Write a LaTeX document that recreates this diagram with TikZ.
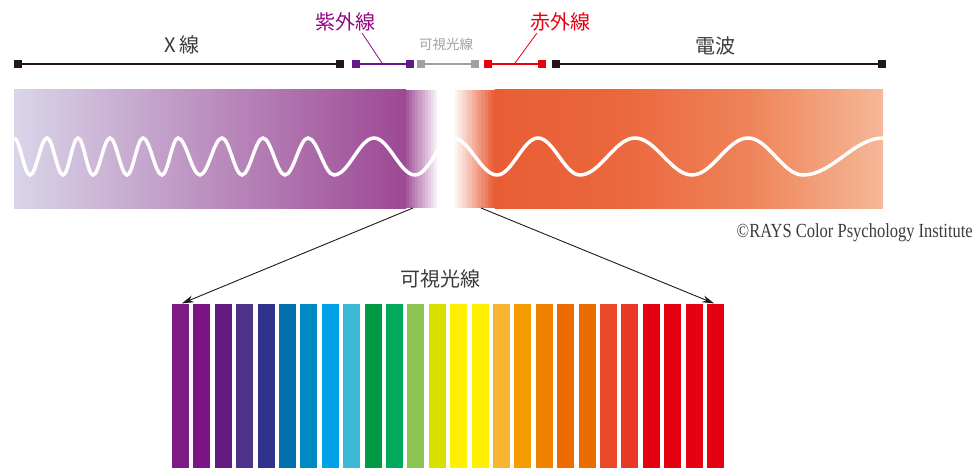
\documentclass[tikz,border=0pt]{standalone}
\usepackage{fontspec}
\setmainfont{Liberation Serif}
\newfontfamily\jp{Noto Sans CJK JP}
\newfontfamily\cond[FakeStretch=0.825]{Liberation Serif}
\usetikzlibrary{arrows.meta}
\definecolor{ink}{HTML}{231815}
\definecolor{txtgray}{HTML}{3E3A39}
\definecolor{uvline}{HTML}{601986}
\definecolor{uvtext}{HTML}{920783}
\definecolor{visgray}{HTML}{A0A0A0}
\definecolor{irred}{HTML}{E60012}
\definecolor{pl}{HTML}{D9D5E9}
\definecolor{pm}{HTML}{BA8DBE}
\definecolor{pd}{HTML}{9D4894}
\definecolor{o1}{HTML}{E95D35}
\definecolor{o2}{HTML}{EB673D}
\definecolor{o3}{HTML}{EF8459}
\definecolor{o4}{HTML}{F5B898}
\definecolor{c1}{HTML}{7C1A86}
\definecolor{c2}{HTML}{7B1585}
\definecolor{c3}{HTML}{641B80}
\definecolor{c4}{HTML}{4E338B}
\definecolor{c5}{HTML}{30318C}
\definecolor{c6}{HTML}{0070AE}
\definecolor{c7}{HTML}{0089C2}
\definecolor{c8}{HTML}{00A1E6}
\definecolor{c9}{HTML}{3BB8D3}
\definecolor{c10}{HTML}{009A45}
\definecolor{c11}{HTML}{00A95B}
\definecolor{c12}{HTML}{8CC452}
\definecolor{c13}{HTML}{D8E000}
\definecolor{c14}{HTML}{FFF000}
\definecolor{c15}{HTML}{FFF000}
\definecolor{c16}{HTML}{F8B42F}
\definecolor{c17}{HTML}{F59C00}
\definecolor{c18}{HTML}{F08200}
\definecolor{c19}{HTML}{ED6C00}
\definecolor{c20}{HTML}{ED6C00}
\definecolor{c21}{HTML}{EA4A2A}
\definecolor{c22}{HTML}{E83828}
\definecolor{c23}{HTML}{E50012}
\definecolor{c24}{HTML}{E50012}
\definecolor{c25}{HTML}{E50012}
\definecolor{c26}{HTML}{E50012}
\tikzset{
  sq/.style={rectangle, fill=#1, minimum size=8pt, inner sep=0pt},
  seg/.style={draw=#1, line width=2pt},
  lead/.style={draw=#1, line width=0.8pt},
  lab/.style={font=\jp\fontsize{20}{22}\selectfont, inner sep=0pt},
  bar/.style={rectangle, fill=#1, minimum width=17pt, minimum height=164pt, inner sep=0pt, anchor=north},
  wave/.style={draw=white, line width=3.5pt},
  arr/.style={draw=ink, line width=0.9pt, -{Stealth[length=12pt,width=7pt]}},
}
\begin{document}
\begin{tikzpicture}[x=1pt,y=-1pt]
\useasboundingbox (0,0) rectangle (973,468);
% scale bar
\node[sq=ink] (x1) at (18,64) {};
\node[sq=ink] (x2) at (340,64) {};
\node[sq=uvline] (u1) at (356,64) {};
\node[sq=uvline] (u2) at (410,64) {};
\node[sq=visgray] (v1) at (421,64) {};
\node[sq=visgray] (v2) at (475,64) {};
\node[sq=irred] (i1) at (488,64) {};
\node[sq=irred] (i2) at (542,64) {};
\node[sq=ink] (r1) at (556,64) {};
\node[sq=ink] (r2) at (882,64) {};
\draw[seg=ink] (x1) -- (x2);
\draw[seg=uvline] (u1) -- (u2);
\draw[seg=visgray] (v1) -- (v2);
\draw[seg=irred] (i1) -- (i2);
\draw[seg=ink] (r1) -- (r2);
% labels
\node[lab, text=txtgray] (lx) at (182,45) {X 線};
\node[lab, text=uvtext] (luv) at (345,22) {紫外線};
\node[font=\jp\fontsize{13.5}{15}\selectfont, inner sep=0pt, text=visgray] (lvis) at (446,44) {可視光線};
\node[lab, text=irred] (lir) at (560,22) {赤外線};
\node[lab, text=txtgray] (lrad) at (715,46) {電波};
\coordinate (uvt) at (362,33);
\coordinate (uvb) at (382,63);
\coordinate (irt) at (537,33);
\coordinate (irb) at (515,63);
\draw[lead=uvtext] (uvt) -- (uvb);
\draw[lead=irred] (irt) -- (irb);
% band
\shade[left color=pl, middle color=pm, right color=pd] (14,90) rectangle (406,208);
\foreach \i in {1,...,11}{
  \pgfmathtruncatemacro{\p}{100-\i*9}
  \fill[pd!\p!white] ({406+(\i-1)*3.1},90) rectangle ({406+\i*3.1+0.3},208);
}
\foreach \i in {1,...,12}{
  \pgfmathtruncatemacro{\p}{\i*8}
  \fill[o1!\p!white] ({455+(\i-1)*3.3},90) rectangle ({455+\i*3.3+0.3},208);
}
\shade[left color=o1, right color=o2] (494.5,90) rectangle (621,208);
\shade[left color=o2, right color=o3] (620,90) rectangle (751,208);
\shade[left color=o3, right color=o4] (750,90) rectangle (883,208);
% wave
\draw[wave] (14,138)
  \foreach \a/\b/\c/\d in {14/30/138/175, 30/47/175/138, 47/63/138/175, 63/78/175/138,
    78/93/138/175, 93/110/175/138, 110/127/138/175, 127/143/175/138, 143/162/138/175,
    162/178/175/138, 178/200/138/175, 200/222/175/138, 222/242/138/175, 242/263/175/138,
    263/285/138/175, 285/308/175/138, 308/334/138/175, 334/374/175/138, 374/415/138/175,
    415/453/175/138, 453/497/138/175, 497/538/175/138, 538/580/138/175, 580/635/175/138,
    635/692/138/175, 692/748/175/138, 748/803/138/175, 803/883/175/138}
  { .. controls ({\a+0.364*(\b-\a)},\c) and ({\b-0.364*(\b-\a)},\d) .. (\b,\d) };
% copyright
\node[anchor=east, inner sep=0pt, font=\cond\fontsize{20}{21}\selectfont, text=txtgray] (copy) at (973,233) {©RAYS Color Psychology Institute};
% bars
\foreach \k in {1,...,26}{
  \node[bar=c\k] (b\k) at ({180.5+(\k-1)*21.4},304) {};
}
\node[lab, text=txtgray] (lv2) at (440,279) {可視光線};
\coordinate (vl) at (413,208);
\coordinate (vr) at (481,208);
\draw[arr, shorten >=1.5pt] (vl) -- (b1.north);
\draw[arr, shorten >=1.5pt] (vr) -- (b26.north);
\end{tikzpicture}
\end{document}
